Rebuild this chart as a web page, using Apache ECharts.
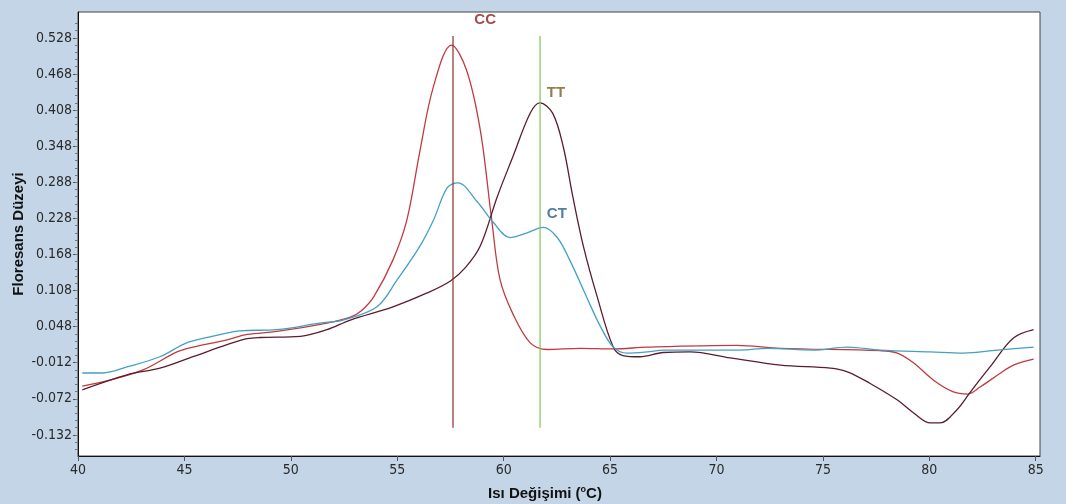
<!DOCTYPE html>
<html lang="tr" style="height: 100%">
<head>
    <meta charset="UTF-8">
    <title>Erime eğrisi</title>
    <script type="text/javascript" src="https://cdn.jsdelivr.net/npm/echarts@6/dist/echarts.min.js"></script>
</head>
<body style="height: 100%;margin: 0;background:#c3d5e7">

<div id="contar" style="width:1066px;height:504px"></div>

<script type="text/javascript">
    // sicaklik (x) ve floresans (y) okumalari
    var ccX = [40.2, 41.5, 43.05, 44.65, 45.4, 47.0, 47.95, 49.35, 51.7, 52.8, 53.3, 53.9, 54.8, 55.45, 56.05, 56.7, 57.55, 58.25, 58.9, 59.44, 59.83, 60.45, 61.25, 62.05, 63.6, 65.15, 66.75, 70.95, 73.0, 77.7, 78.5, 79.25, 80.2, 81.1, 81.8, 82.4, 83.35, 83.95, 84.9];
    var ccY = [-0.051, -0.041, -0.024, 0.006, 0.014, 0.026, 0.035, 0.040, 0.054, 0.064, 0.074, 0.098, 0.159, 0.225, 0.337, 0.447, 0.516, 0.475, 0.375, 0.225, 0.126, 0.068, 0.021, 0.010, 0.012, 0.011, 0.014, 0.017, 0.012, 0.008, 0.004, -0.012, -0.041, -0.060, -0.064, -0.052, -0.029, -0.016, -0.006];

    var ttX = [40.2, 42.3, 43.85, 45.4, 47.0, 47.95, 48.55, 50.45, 51.7, 52.8, 54.8, 56.4, 57.5, 58.2, 58.9, 59.7, 60.45, 61.25, 61.7, 62.3, 62.8, 63.25, 63.75, 64.4, 65.15, 65.6, 66.4, 67.5, 68.75, 70.65, 73.0, 75.35, 76.15, 77.2, 78.5, 79.25, 80.05, 80.5, 81.3, 81.9, 82.85, 83.95, 84.9];
    var ttY = [-0.057, -0.032, -0.021, -0.002, 0.018, 0.028, 0.030, 0.032, 0.043, 0.059, 0.081, 0.104, 0.124, 0.146, 0.182, 0.264, 0.332, 0.403, 0.420, 0.403, 0.347, 0.264, 0.181, 0.097, 0.014, 0.000, -0.002, 0.005, 0.006, -0.004, -0.016, -0.021, -0.027, -0.046, -0.074, -0.095, -0.112, -0.112, -0.090, -0.062, -0.019, 0.029, 0.043];

    var ctX = [40.2, 41.15, 42.3, 43.85, 45.1, 46.2, 47.6, 49.35, 51.35, 52.45, 54.05, 55.0, 56.05, 56.7, 57.35, 57.85, 58.75, 59.5, 60.3, 61.1, 61.85, 62.5, 63.1, 63.9, 64.55, 65.15, 65.8, 66.75, 67.5, 69.1, 71.1, 72.4, 74.55, 76.15, 77.7, 80.05, 81.6, 83.2, 84.9];
    var ctY = [-0.029, -0.029, -0.019, -0.002, 0.021, 0.031, 0.041, 0.043, 0.054, 0.059, 0.081, 0.126, 0.181, 0.225, 0.279, 0.287, 0.256, 0.222, 0.196, 0.204, 0.213, 0.197, 0.159, 0.097, 0.048, 0.014, 0.004, 0.006, 0.009, 0.009, 0.009, 0.012, 0.009, 0.014, 0.009, 0.006, 0.004, 0.009, 0.014];

    // tepe isaret cizgileri
    var ccPeakX = 57.62;
    var ttPeakX = 61.71;
    var peakLineY = [-0.120, 0.531];

    var xTicks = [40, 45, 50, 55, 60, 65, 70, 75, 80, 85];
    var yTicks = [-0.132, -0.072, -0.012, 0.048, 0.108, 0.168, 0.228, 0.288, 0.348, 0.408, 0.468, 0.528];

    var labelNames = ['CC', 'TT', 'CT'];
    var labelX = [59.13, 62.46, 62.5];
    var labelY = [0.558, 0.436, 0.236];

    function pairs(xs, ys) {
        var out = [];
        for (var i = 0; i < xs.length; i++) out.push([xs[i], ys[i]]);
        return out;
    }

    // ara tikler 0.012 adimla
    var yMinor = [];
    for (var k = -2; k <= 57; k++) {
        var v = Math.round((-0.132 + k * 0.012) * 1000) / 1000;
        if (v > -0.167 && v < 0.571) yMinor.push(v);
    }

    var labelColors = ['#8b1c24', '#7a5c1e', '#2b5d8a'];
    var labelData = [];
    for (var j = 0; j < labelNames.length; j++) {
        labelData.push({
            value: [labelX[j], labelY[j]],
            label: {show: true, formatter: labelNames[j], color: labelColors[j]}
        });
    }

    var tickFont = {fontFamily: 'Liberation Sans Narrow, DejaVu Sans Condensed, sans-serif', fontSize: 14, color: '#2a2a2a'};

    var chart = echarts.init(document.getElementById('contar'));
    var option = {
        backgroundColor: '#c3d5e7',
        animation: false,
        grid: {
            left: 78, right: 26, top: 12, bottom: 48,
            outerBoundsMode: 'none',
            show: true, backgroundColor: '#ffffff', borderColor: '#444', borderWidth: 1
        },
        xAxis: {
            type: 'value',
            min: 40,
            max: 85.2,
            name: 'Isı Değişimi ({sup|o}C)',
            nameLocation: 'middle',
            nameGap: 29,
            nameTextStyle: {
                fontFamily: 'Liberation Sans, Arial, sans-serif', fontSize: 15, fontWeight: 'bold', color: '#111',
                padding: [0, 28, 0, 0],
                rich: {sup: {fontSize: 9, fontWeight: 'bold', verticalAlign: 'top', padding: [0, 0, 8, 0]}}
            },
            axisLine: {show: true, onZero: false, lineStyle: {color: '#111', width: 1}},
            axisTick: {show: true, length: 5, customValues: xTicks, lineStyle: {color: '#555'}},
            axisLabel: Object.assign({customValues: xTicks, margin: 7}, tickFont),
            splitLine: {show: false}
        },
        yAxis: [{
            type: 'value',
            min: -0.167,
            max: 0.571,
            name: 'Floresans Düzeyi',
            nameLocation: 'middle',
            nameGap: 52,
            nameMoveOverlap: false,
            nameTextStyle: {fontFamily: 'Liberation Sans, Arial, sans-serif', fontSize: 15, fontWeight: 'bold', color: '#111'},
            axisLine: {show: true, onZero: false, lineStyle: {color: '#111', width: 1}},
            axisTick: {show: true, length: 5, customValues: yTicks, lineStyle: {color: '#555'}},
            axisLabel: Object.assign({customValues: yTicks, margin: 6, formatter: function (v) { return v.toFixed(3); }}, tickFont),
            splitLine: {show: false}
        }, {
            type: 'value',
            position: 'left',
            min: -0.167,
            max: 0.571,
            axisLine: {show: false, onZero: false},
            axisTick: {show: true, length: 3, customValues: yMinor, lineStyle: {color: '#777'}},
            axisLabel: {show: false},
            splitLine: {show: false}
        }],
        series: [
            {
                name: 'CC', type: 'line', smooth: 0.35, symbol: 'none',
                lineStyle: {color: '#c23a3e', width: 1.3},
                data: pairs(ccX, ccY)
            },
            {
                name: 'TT', type: 'line', smooth: 0.35, symbol: 'none',
                lineStyle: {color: '#5a1d2c', width: 1.3},
                data: pairs(ttX, ttY)
            },
            {
                name: 'CT', type: 'line', smooth: 0.35, symbol: 'none',
                lineStyle: {color: '#43a0c4', width: 1.3},
                data: pairs(ctX, ctY)
            },
            {
                type: 'line', symbol: 'none',
                lineStyle: {color: '#8b2e2e', width: 1.2},
                data: [[ccPeakX, peakLineY[0]], [ccPeakX, peakLineY[1]]]
            },
            {
                type: 'line', symbol: 'none',
                lineStyle: {color: '#7cc45a', width: 1.2},
                data: [[ttPeakX, peakLineY[0]], [ttPeakX, peakLineY[1]]]
            },
            {
                type: 'scatter', symbolSize: 0,
                label: {
                    show: true, position: 'inside',
                    fontFamily: 'Liberation Sans, Arial, sans-serif', fontSize: 15, fontWeight: 'bold'
                },
                data: labelData
            }
        ]
    };
    chart.setOption(option);
</script>

</body>
</html>
